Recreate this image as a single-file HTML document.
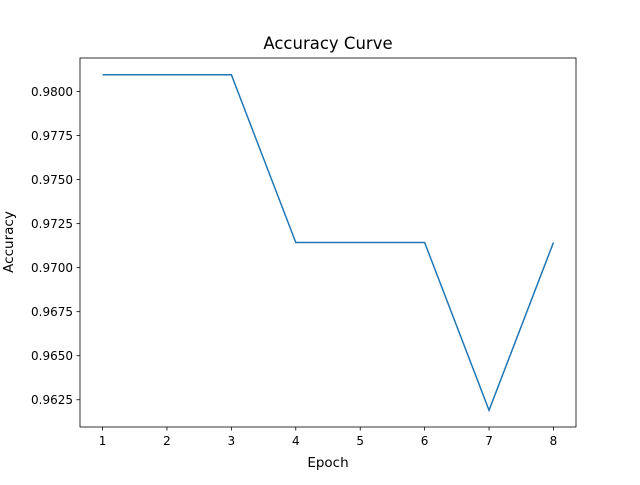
<!DOCTYPE html>
<html><head><meta charset="utf-8"><style>
body{margin:0;background:#fff}
svg text{font-family:"DejaVu Sans","Liberation Sans",sans-serif;fill:#000}
</style></head><body>
<svg id="chart" width="640" height="480">
<rect width="640" height="480" fill="#fff"/>
<text x="328" y="49" font-size="16.5" text-anchor="middle">Accuracy Curve</text>
<text x="328" y="467" font-size="13.5" text-anchor="middle">Epoch</text>
<text transform="translate(13,242) rotate(-90)" font-size="13.5" text-anchor="middle">Accuracy</text>
<g id="ticks"></g>
<polyline id="line" fill="none" stroke="#1f77b4" stroke-width="1.5"/>
<rect x="80" y="58" width="496" height="369" fill="none" stroke="#000" stroke-width="0.8"/>
</svg>
<script>
const epochs=[1,2,3,4,5,6,7,8];
const accuracy=[0.980952,0.980952,0.980952,0.971429,0.971429,0.971429,0.961905,0.971429];
const yTicks=[0.9625,0.9650,0.9675,0.9700,0.9725,0.9750,0.9775,0.9800];
const xTicks=[1,2,3,4,5,6,7,8];
const L=80,R=576,T=58,B=427;
const xmin=Math.min(...epochs),xmax=Math.max(...epochs),xm=(xmax-xmin)*0.05;
const ymin=Math.min(...accuracy),ymax=Math.max(...accuracy),ym=(ymax-ymin)*0.05;
const sx=v=>L+(v-(xmin-xm))/((xmax+xm)-(xmin-xm))*(R-L);
const sy=v=>B-(v-(ymin-ym))/((ymax+ym)-(ymin-ym))*(B-T);
const NS="http://www.w3.org/2000/svg";
const g=document.getElementById('ticks');
function mk(t,a){const e=document.createElementNS(NS,t);for(const k in a)e.setAttribute(k,a[k]);g.appendChild(e);return e;}
xTicks.forEach(v=>{const x=sx(v);
const l=mk('line',{x1:x,x2:x,y1:B,y2:B+3.5,stroke:'#000','stroke-width':0.8});


const t=mk('text',{x:x,y:B+18,'font-size':12,'text-anchor':'middle'});t.textContent=v;

});
yTicks.forEach(v=>{const y=sy(v);
const l=mk('line',{x1:L-3.5,x2:L,y1:y,y2:y,stroke:'#000','stroke-width':0.8});


const t=mk('text',{x:L-7,y:y+4.5,'font-size':12,'text-anchor':'end'});t.textContent=v.toFixed(4);

});
document.getElementById('line').setAttribute('points',epochs.map((e,i)=>sx(e)+','+sy(accuracy[i])).join(' '));
</script>
</body></html>
